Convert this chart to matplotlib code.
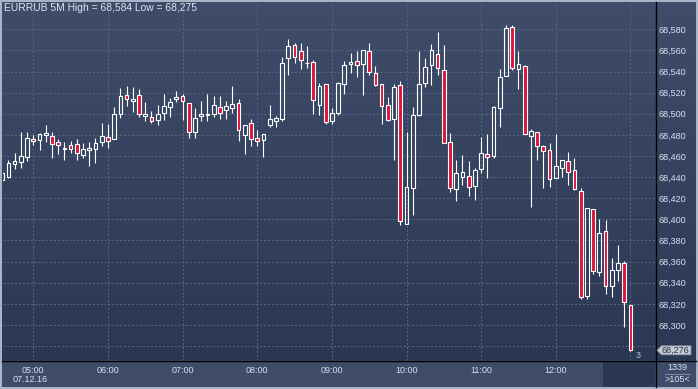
import numpy as np
import matplotlib.pyplot as plt
from matplotlib.colors import LinearSegmentedColormap
from matplotlib.lines import Line2D
from matplotlib.patches import Polygon, Rectangle

plt.rcParams['font.family'] = ['Liberation Sans', 'DejaVu Sans']

# EURRUB 5-minute candles, 04:35 .. 13:00 (07.12.16)
opens = [68.437, 68.440, 68.452, 68.454, 68.459, 68.476, 68.475, 68.480, 68.479, 68.473,
         68.467, 68.470, 68.471, 68.461, 68.466, 68.467, 68.473, 68.478, 68.476, 68.500,
         68.518, 68.512, 68.518, 68.498, 68.497, 68.494, 68.501, 68.506, 68.514, 68.517,
         68.510, 68.483, 68.498, 68.499, 68.500, 68.506, 68.504, 68.505, 68.510, 68.480,
         68.491, 68.477, 68.475, 68.489, 68.493, 68.495, 68.553, 68.565, 68.559, 68.548,
         68.549, 68.508, 68.528, 68.493, 68.501, 68.528, 68.547, 68.550, 68.547, 68.559,
         68.539, 68.528, 68.508, 68.495, 68.527, 68.396, 68.430, 68.499, 68.529, 68.546,
         68.557, 68.541, 68.473, 68.429, 68.440, 68.441, 68.432, 68.448, 68.462, 68.460,
         68.505, 68.536, 68.582, 68.542, 68.545, 68.479, 68.483, 68.469, 68.466, 68.439,
         68.449, 68.455, 68.447, 68.427, 68.327, 68.410, 68.350, 68.389, 68.337, 68.352,
         68.359, 68.319]
highs = [68.448, 68.456, 68.463, 68.483, 68.483, 68.480, 68.482, 68.489, 68.483, 68.476,
         68.473, 68.474, 68.476, 68.472, 68.473, 68.477, 68.491, 68.490, 68.506, 68.524,
         68.526, 68.525, 68.523, 68.511, 68.503, 68.508, 68.519, 68.515, 68.522, 68.519,
         68.510, 68.505, 68.512, 68.519, 68.517, 68.517, 68.512, 68.526, 68.514, 68.489,
         68.495, 68.485, 68.481, 68.508, 68.498, 68.554, 68.571, 68.567, 68.567, 68.564,
         68.551, 68.529, 68.528, 68.505, 68.530, 68.550, 68.558, 68.559, 68.560, 68.567,
         68.545, 68.528, 68.516, 68.528, 68.531, 68.483, 68.506, 68.559, 68.553, 68.566,
         68.577, 68.565, 68.482, 68.456, 68.461, 68.455, 68.449, 68.478, 68.481, 68.507,
         68.542, 68.584, 68.584, 68.559, 68.546, 68.486, 68.483, 68.470, 68.472, 68.481,
         68.456, 68.464, 68.458, 68.430, 68.411, 68.410, 68.400, 68.399, 68.363, 68.376,
         68.361, 68.319]
lows = [68.435, 68.439, 68.448, 68.449, 68.455, 68.470, 68.466, 68.473, 68.458, 68.462,
        68.456, 68.463, 68.456, 68.458, 68.451, 68.453, 68.469, 68.468, 68.476, 68.496,
        68.507, 68.502, 68.497, 68.493, 68.491, 68.489, 68.494, 68.497, 68.511, 68.494,
        68.477, 68.477, 68.493, 68.493, 68.497, 68.495, 68.495, 68.501, 68.474, 68.462,
        68.469, 68.469, 68.459, 68.487, 68.487, 68.493, 68.537, 68.548, 68.542, 68.543,
        68.500, 68.499, 68.490, 68.490, 68.499, 68.519, 68.539, 68.535, 68.518, 68.537,
        68.526, 68.490, 68.493, 68.456, 68.395, 68.396, 68.404, 68.498, 68.525, 68.527,
        68.537, 68.472, 68.426, 68.417, 68.433, 68.422, 68.418, 68.444, 68.439, 68.458,
        68.487, 68.536, 68.541, 68.523, 68.481, 68.412, 68.456, 68.430, 68.431, 68.439,
        68.440, 68.433, 68.428, 68.325, 68.325, 68.348, 68.346, 68.329, 68.326, 68.342,
        68.298, 68.275]
closes = [68.444, 68.453, 68.455, 68.460, 68.477, 68.474, 68.481, 68.482, 68.471, 68.470,
          68.468, 68.467, 68.463, 68.467, 68.468, 68.472, 68.479, 68.474, 68.500, 68.517,
          68.514, 68.514, 68.500, 68.500, 68.493, 68.500, 68.507, 68.511, 68.516, 68.512,
          68.483, 68.496, 68.500, 68.500, 68.508, 68.501, 68.507, 68.509, 68.485, 68.489,
          68.476, 68.474, 68.481, 68.495, 68.496, 68.548, 68.564, 68.554, 68.551, 68.548,
          68.513, 68.526, 68.492, 68.501, 68.529, 68.546, 68.549, 68.546, 68.560, 68.540,
          68.527, 68.507, 68.494, 68.525, 68.398, 68.431, 68.499, 68.528, 68.544, 68.560,
          68.543, 68.472, 68.430, 68.444, 68.445, 68.431, 68.447, 68.463, 68.459, 68.506,
          68.535, 68.581, 68.543, 68.547, 68.481, 68.484, 68.469, 68.465, 68.438, 68.451,
          68.456, 68.445, 68.429, 68.326, 68.411, 68.351, 68.387, 68.337, 68.352, 68.359,
          68.322, 68.276]

hour_labels = ['05:00', '06:00', '07:00', '08:00', '09:00', '10:00', '11:00', '12:00', '13:00']
first_hour_idx = 5          # candle index of 05:00
price_ticks = np.round(np.arange(68.28, 68.5801, 0.02), 3)
last_price = 68.276

W, H = 698, 389


def box(x0, y0, x1, y1):
    # pixel box (top-left origin) -> figure fraction rect
    return [x0 / W, 1 - y1 / H, (x1 - x0) / W, (y1 - y0) / H]


def fx(x):
    return x / W


def fy(y):
    return 1 - y / H


fig = plt.figure(figsize=(W / 100, H / 100), dpi=100)
fig.patch.set_facecolor('#a9b4c6')

# gradient background of the chart + price scale
bg = fig.add_axes(box(2, 2, 696, 360))
cmap = LinearSegmentedColormap.from_list('bg', ['#3f4d6a', '#2b3854'])
bg.imshow(np.linspace(0, 1, 256).reshape(-1, 1), aspect='auto', cmap=cmap, extent=[0, 1, 0, 1])
bg.axis('off')

# time scale strip
strip = fig.add_axes(box(2, 360, 696, 387))
strip.set_facecolor('#3e4c69')
strip.set_xticks([])
strip.set_yticks([])
for s in strip.spines.values():
    s.set_visible(False)
fig.add_artist(Rectangle((fx(603), fy(387)), fx(655) - fx(603), fy(361) - fy(387),
                         transform=fig.transFigure, facecolor='#2c3852', edgecolor='none', zorder=1))

ax = fig.add_axes(box(3, 3, 655, 360))
ax.set_facecolor('none')
for s in ax.spines.values():
    s.set_visible(False)

o = np.array(opens)
h = np.array(highs)
l = np.array(lows)
c = np.array(closes)
x = np.arange(len(o))
up = c >= o
top = np.maximum(o, c)
bot = np.minimum(o, c)

ax.vlines(x, top, h, color='white', lw=0.8, zorder=3)
ax.vlines(x, l, bot, color='white', lw=0.8, zorder=3)
ax.bar(x[up], (c - o)[up], bottom=o[up], width=0.6, facecolor='none',
       edgecolor='white', lw=0.8, zorder=4)
ax.bar(x[~up], (o - c)[~up], bottom=c[~up], width=0.6, facecolor='#dc143c',
       edgecolor='white', lw=0.8, zorder=4)

ax.set_xlim(0.13, 104.95)
ax.set_ylim(68.2668, 68.6049)

ax.set_xticks([first_hour_idx + 12 * k for k in range(len(hour_labels))])
ax.set_xticklabels(hour_labels)
ax.set_yticks(price_ticks)
# the lowest level label sits under the current price tag
ax.set_yticklabels(['' if abs(v - 68.28) < 1e-6 else f'{v:.3f}'.replace('.', ',')
                    for v in price_ticks])
ax.grid(True, color='#5a6883', linestyle=(0, (2, 2)), lw=0.7)
ax.yaxis.tick_right()
ax.tick_params(axis='y', length=0, pad=2.5, labelsize=6.5, labelcolor='#d5e0f2')
ax.tick_params(axis='x', length=0, pad=4, labelsize=6.5, labelcolor='#d5e0f2')
ax.get_xticklabels()[-1].set_color('#5b6b8a')

fig.text(fx(30), fy(380), '07.12.16', ha='center', va='center', fontsize=6.5, color='#d5e0f2')

# frame lines
fig.add_artist(Line2D([fx(2), fx(696)], [fy(360.5)] * 2, color='black', lw=1, zorder=6))
fig.add_artist(Line2D([fx(655.5)] * 2, [fy(2), fy(387)], color='black', lw=1, zorder=6))

# title
fig.text(fx(4), fy(8), 'EURRUB 5M High = 68,584 Low = 68,275', ha='left', va='center',
         fontsize=7.4, color='#dce4f2')

# current price tag
yp = 29.3 + (68.580 - last_price) * 1056
tag = [(657, yp), (661.5, yp - 4.5), (691, yp - 4.5), (691, yp + 4.5), (661.5, yp + 4.5)]
fig.add_artist(Polygon([(fx(a), fy(b)) for a, b in tag], closed=True, facecolor='#c5cad3',
                       edgecolor='#8890a0', lw=0.6, zorder=7))
fig.text(fx(675), fy(yp), f'{last_price:.3f}'.replace('.', ','), ha='center', va='center',
         fontsize=6.5, color='#2a3345', zorder=8)
fig.text(fx(638), fy(355.5), '3', ha='center', va='center', fontsize=6.5, color='#a8c8f0')

# corner box
fig.text(fx(677), fy(367), '1339', ha='center', va='center', fontsize=6.5, color='#d5e0f2')
fig.add_artist(Line2D([fx(665), fx(690)], [fy(373.5)] * 2, color='#7d8aa3', lw=0.7, zorder=6))
fig.text(fx(677), fy(380), '>105<', ha='center', va='center', fontsize=6.5, color='#d5e0f2')

fig.savefig('out.png', dpi=100, facecolor=fig.get_facecolor())
